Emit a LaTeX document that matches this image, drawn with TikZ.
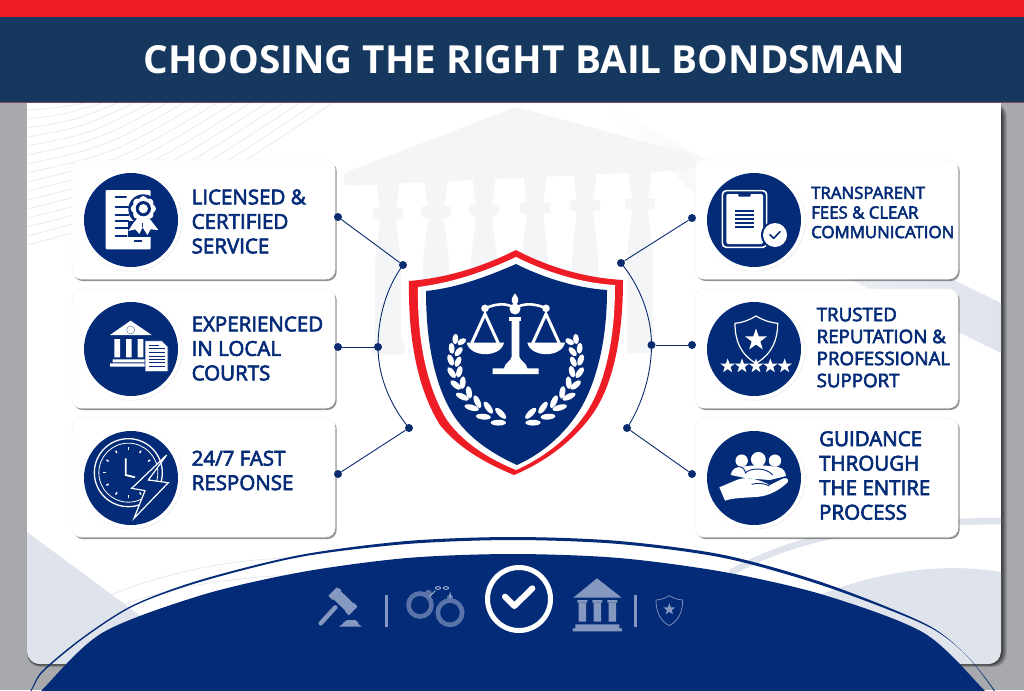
\documentclass[tikz,border=0pt]{standalone}
\usepackage{fontspec}
\setmainfont{Open Sans}
\newfontfamily\semifont[FakeBold=3.2]{Open Sans}
\usetikzlibrary{shadows}
\definecolor{navy}{HTML}{042B77}
\definecolor{dotnavy}{HTML}{0A2C6E}
\definecolor{headnavy}{HTML}{16385F}
\definecolor{brandred}{HTML}{EE1C25}
\definecolor{bggrey}{HTML}{A7A9AD}
\definecolor{paleA}{HTML}{F4F5F7}
\definecolor{paleB}{HTML}{DFE3EC}
\definecolor{paleline}{HTML}{E6E9EF}
\definecolor{dimicon}{HTML}{8598C0}
\definecolor{cuffring}{HTML}{5A74A9}
\definecolor{hairline}{HTML}{7A4A6B}
\tikzset{
 cardbox/.style={rectangle,rounded corners=9pt,fill=white,draw=paleA,line width=.6pt,inner sep=0pt,minimum width=263pt,minimum height=119pt,drop shadow={shadow xshift=1.6pt,shadow yshift=-2pt,opacity=.6,fill=black!70}},
 iconhalo/.style={circle,fill=white,inner sep=0pt,minimum size=102pt,drop shadow={shadow xshift=.5pt,shadow yshift=-.5pt,opacity=.10,fill=black}},
 iconbase/.style={circle,fill=navy,inner sep=0pt,minimum size=94pt},
 dotnode/.style={circle,fill=dotnavy,inner sep=0pt,minimum size=8pt},
 wire/.style={dotnavy,line width=.9pt},
 lab/.style={text=navy,inner sep=0pt,anchor=west,align=left},
 labbig/.style={lab,font=\semifont\fontsize{20.5}{24.5}\selectfont},
 labsmall/.style={lab,font=\semifont\fontsize{16.8}{19.6}\selectfont},
 labmid/.style={lab,font=\semifont\fontsize{18.7}{22}\selectfont},
 zA/.style={x=.33333pt,y=-.33333pt,shift={(60pt,-150pt)}},
 zB/.style={x=.33333pt,y=-.33333pt,shift={(680pt,-150pt)}},
 zC/.style={x=.33333pt,y=-.33333pt,shift={(380pt,-240pt)}},
 zD/.style={x=.33333pt,y=-.33333pt,shift={(290pt,-530pt)}},
}
\newcommand{\fivestar}[3]{\fill[white,shift={(#1,#2)}] (90:#3pt) -- (126:.4*#3pt) -- (162:#3pt) -- (198:.4*#3pt) -- (234:#3pt) -- (270:.4*#3pt) -- (306:#3pt) -- (342:.4*#3pt) -- (18:#3pt) -- (54:.4*#3pt) -- cycle;}
\begin{document}
\begin{tikzpicture}[x=1pt,y=-1pt]
\useasboundingbox (0,0) rectangle (1024,690);
\clip (0,0) rectangle (1024,690);
% backdrop
\fill[bggrey] (0,0) rectangle (1024,690);
\foreach \d/\o in {6/.10,5/.12,4/.14,3/.16,2/.18,1/.2}{
  \fill[black,opacity=\o,rounded corners=13pt] (27,103) rectangle (1001+\d,664+\d*.5);}
\begin{scope}
 \clip[rounded corners=13pt] (27,90) rectangle (1001,664);
 \fill[white] (27,90) rectangle (1001,664);
 % fan lines
 \foreach \i in {0,...,15}{
   \pgfmathsetmacro{\ys}{110+\i*9}
   \pgfmathsetmacro{\xe}{85+\i*16.5}
   \draw[paleline,line width=.7pt] (27,\ys) .. controls ({27+.5*(\xe-27)},{\ys-.28*(\ys-103)}) .. (\xe,103);}
 % diagonal band
 \shade[left color=white,right color=paleB] (600,100) -- (700,157) -- (1001,303) -- (1001,353) -- (760,235) -- (690,190) -- cycle;
 % temple watermark
 \fill[paleA,rounded corners=4pt] (344,173) -- (516,107) -- (694,155) -- (694,170) -- (344,186) -- cycle;
 \foreach \cx/\h in {388/213,436/211,484/209,535/207,585/205,640/203}{
  \fill[paleA] ({\cx-11},{\h-32}) .. controls ({\cx-11},{\h-15}) and ({\cx-8},{\h-8}) .. ({\cx-8},{\h-5}) -- ({\cx-15},{\h-4}) -- ({\cx-15},{\h+5}) -- ({\cx-8},{\h+7}) .. controls ({\cx-9},{\h+20}) and ({\cx-13},{\h+40}) .. ({\cx-13},{\h+60}) -- ({\cx-13},353) -- ({\cx+13},353) -- ({\cx+13},{\h+60}) .. controls ({\cx+13},{\h+40}) and ({\cx+9},{\h+20}) .. ({\cx+8},{\h+7}) -- ({\cx+15},{\h+5}) -- ({\cx+15},{\h-4}) -- ({\cx+8},{\h-5}) .. controls ({\cx+8},{\h-8}) and ({\cx+11},{\h-15}) .. ({\cx+11},{\h-32}) -- cycle;}
 \fill[paleA,rounded corners=3pt] (372,342) rectangle (405,355);
 % lower shapes
 \fill[paleB] (27,532) -- (142,617) -- (60,670) -- (27,670) -- cycle;
 \fill[paleB] (815,597) .. controls (860,578) and (930,560) .. (1001,572) -- (1001,670) -- (930,670) -- cycle;
 \draw[paleB,line width=6.5pt] (730,573) .. controls (790,540) and (860,522) .. (1001,521);
 \draw[paleB,line width=.6pt] (33,636) .. controls (100,590) and (200,558) .. (300,558);
 \draw[paleB,line width=.6pt] (35,650) .. controls (110,600) and (190,578) .. (300,575);
\end{scope}
% header
\fill[brandred] (0,0) rectangle (1024,17);
\fill[headnavy] (0,17) rectangle (1024,102);
\fill[hairline] (0,102) rectangle (1024,103);
\node[text=white,inner sep=0pt,font=\bfseries\fontsize{38.7}{44}\selectfont] (title) at (524,59.5) {CHOOSING THE RIGHT BAIL BONDSMAN};
% bottom dome
\fill[navy] plot[smooth] coordinates {(22,712)(42,690)(102,633)(202,595)(302,572)(407,558)(513,554)(619,558)(724,572)(824,595)(924,633)(984,690)(1004,712)} -- cycle;
\fill[navy] plot[smooth] coordinates {(26,700)(32,688)(43,670)(83,637)(133,605)(200,580)(300,555)(407,541)(513,537)(619,541)(724,555)(824,583)(924,623)(964,653)(992,688)(997,700)} -- plot[smooth] coordinates {(998,700)(993,688)(965,654)(925,625)(824,586)(724,558)(619,544)(513,540)(407,544)(300,557)(200,582)(134,606)(84,638)(44,671)(33,688)(27,700)} -- cycle;
% cards
\node[cardbox] (c1) at (203.5,219.5) {};
\node[cardbox] (c2) at (203.5,348.5) {};
\node[cardbox] (c3) at (203.5,477.5) {};
\node[cardbox] (c4) at (826.5,219.5) {};
\node[cardbox] (c5) at (826.5,348.5) {};
\node[cardbox] (c6) at (826.5,477.5) {};
\foreach \n/\x/\y in {a/131/220,b/131/349,c/131/478,d/754/220,e/754/349,f/754/478}{
 \node[iconhalo] (h\n) at (\x,\y) {};
 \node[iconbase] (i\n) at (\x,\y) {};}
% labels
\node[labbig] (t1) at (191.5,221.5) {LICENSED \&\\CERTIFIED\\SERVICE};
\node[labbig] (t2) at (191.5,348.5) {EXPERIENCED\\IN LOCAL\\COURTS};
\node[labbig] (t3) at (191.5,470.5) {24/7 FAST\\RESPONSE};
\node[labsmall] (t4) at (811,212.5) {TRANSPARENT\\FEES \& CLEAR\\COMMUNICATION};
\node[labmid] (t5) at (816.5,347.5) {TRUSTED\\REPUTATION \&\\PROFESSIONAL\\SUPPORT};
\node[labbig] (t6) at (819,475.5) {GUIDANCE\\THROUGH\\THE ENTIRE\\PROCESS};
% connectors
\node[dotnode] (d1) at (338,217) {};
\node[dotnode] (d2) at (403,265) {};
\node[dotnode] (d3) at (338,347) {};
\node[dotnode] (d4) at (378,347) {};
\node[dotnode] (d5) at (338,474) {};
\node[dotnode] (d6) at (409,428) {};
\node[dotnode] (d7) at (692,218) {};
\node[dotnode] (d8) at (621,263) {};
\node[dotnode] (d9) at (692,345) {};
\node[dotnode] (d10) at (651.5,345) {};
\node[dotnode] (d11) at (692,474) {};
\node[dotnode] (d12) at (627,428) {};
\draw[wire] (d1) -- (d2);
\draw[wire] (d3) -- (d4);
\draw[wire] (d5) -- (d6);
\draw[wire] (d7) -- (d8);
\draw[wire] (d9) -- (d10);
\draw[wire] (d11) -- (d12);
\draw[wire] (d2.center) .. controls (386,288) and (378,318) .. (d4.center);
\draw[wire] (d4.center) .. controls (378,376) and (390,405) .. (d6.center);
\draw[wire] (d8.center) .. controls (640,286) and (651.5,316) .. (d10.center);
\draw[wire] (d10.center) .. controls (651.5,374) and (642,405) .. (d12.center);
% shield
\fill[brandred] (516,250) .. controls (480,268) and (445,278) .. (409,281) .. controls (408,340) and (418,390) .. (440,425) .. controls (460,450) and (490,465) .. (514,475) .. controls (545,462) and (575,440) .. (594,412) .. controls (612,385) and (623,340) .. (623,280) .. controls (587,278) and (550,268) .. (516,250) -- cycle;
\fill[white] (516,257) .. controls (482,273) and (450,283) .. (418,287) .. controls (417,340) and (427,388) .. (447,420) .. controls (465,445) and (492,460) .. (516,470) .. controls (543,458) and (570,438) .. (588,410) .. controls (605,382) and (615,340) .. (615,285) .. controls (582,283) and (548,273) .. (516,257) -- cycle;
\fill[navy] (516,264) .. controls (484,278) and (455,288) .. (426,291) .. controls (426,340) and (434,385) .. (454,416) .. controls (470,440) and (495,455) .. (517,465) .. controls (541,454) and (564,436) .. (581,408) .. controls (597,380) and (607,340) .. (607,290) .. controls (578,288) and (546,279) .. (516,264) -- cycle;
\begin{scope}[zC]
 \draw[white,line width=2.6pt] (315,205) .. controls (350,190) and (380,188) .. (405,205) .. controls (430,188) and (465,190) .. (498,205);
 \fill[white] (315,205) circle (3.8pt) (498,205) circle (3.8pt) (405,207) circle (5.5pt);
 \fill[white] (405,160) .. controls (412,172) and (424,180) .. (405,197) .. controls (386,180) and (398,172) .. (405,160) -- cycle;
 \fill[white] (388,232) rectangle (424,243);
 \fill[white] (395,240) -- (418,240) -- (418,350) .. controls (422,365) and (440,368) .. (442,385) -- (476,385) -- (476,402) -- (338,402) -- (338,385) -- (372,385) .. controls (374,368) and (392,365) .. (395,350) -- cycle;
 \draw[white,line width=3pt] (275,310) -- (315,222) -- (355,310);
 \draw[white,line width=3pt] (458,310) -- (498,222) -- (538,310);
 \fill[white] (260,308) .. controls (270,354) and (362,354) .. (372,308) -- cycle;
 \fill[white] (442,308) .. controls (452,354) and (545,354) .. (555,308) -- cycle;
 \foreach \x/\y/\a/\l in {226/297/85/5.2,245/305/30/4.8,215/325/95/5.5,236/335/50/5.5,212/360/110/6,234/365/65/5.6,215/398/125/6.4,238/395/75/6,227/435/140/6.6,248/428/85/6.4,247/470/155/7,267/457/100/6.4,275/503/165/7.4,292/485/115/6.8,310/530/175/7.4,325/503/125/7,355/548/180/7.6,362/520/135/7.2}{
  \fill[white,shift={(\x,\y)},rotate=\a] (0,0) ellipse (\l pt and 2.9pt);
  \fill[white,shift={({814-\x},\y)},rotate=-\a] (0,0) ellipse (\l pt and 2.9pt);}
\end{scope}
% icon: certificate
\begin{scope}[zA]
 \fill[white,rounded corners=1pt] (137,120) rectangle (272,298);
 \draw[navy,line width=2pt,line cap=round] (167,142) -- (198,142) (167,172) -- (212,172) (167,194) -- (205,194) (167,214) -- (205,214) (167,235) -- (205,235) (167,258) -- (200,258) (224,273) -- (244,273);
 \fill[navy] (250,178) circle (15pt);
 \fill[navy] (205,212) rectangle (300,262);
 \fill[white] (218,222) -- (232,205) -- (268,205) -- (295,240) -- (272,238) -- (262,255) -- (248,232) -- (238,252) -- (226,238) -- (205,243) -- cycle;
 \draw[navy,line width=1pt] (248,232) -- (248,218);
 \foreach \a in {0,45,...,315}{\fill[white] ({250+26*cos(\a)},{176+26*sin(\a)}) circle (4pt);}
 \fill[white] (250,176) circle (11pt);
 \fill[navy] (250,176) circle (7.6pt);
 \fill[white] (250,176) circle (4.6pt);
\end{scope}
% icon: courthouse and paper
\begin{scope}[zA]
 \fill[white] (150,555) -- (212,512) -- (275,555) -- cycle;
 \draw[navy!70!white,line width=.4pt] (212,540) circle (4pt);
 \fill[white] (163,567) rectangle (180,622) (198,567) rectangle (215,622) (233,567) rectangle (250,622);
 \fill[white] (158,628) rectangle (255,637) (150,640) rectangle (258,650);
 \fill[white,draw=navy,line width=.8pt] (255,572) -- (306,572) -- (324,590) -- (324,665) -- (255,665) -- cycle;
 \foreach \y/\e in {585/296,596/315,607/315,618/315,628/315,638/315,648/315}{\draw[navy,line width=.8pt] (266,\y) -- (\e,\y);}
\end{scope}
% icon: clock and bolt
\begin{scope}[zA]
 \draw[white,line width=1.3pt] (205,968) circle (34pt);
 \draw[white,line width=.8pt] (205,968) circle (29.5pt);
 \foreach \a in {0,30,...,330}{\draw[white,line width=1.4pt] ({205+68*cos(\a)},{968+68*sin(\a)}) -- ({205+76*cos(\a)},{968+76*sin(\a)});}
 \draw[white,line width=1.8pt] (197,925) -- (197,975) -- (225,982);
 \fill[navy,draw=white,line width=1.2pt,line join=miter] (320,915) -- (265,990) -- (325,998) -- (222,1105) -- (255,1022) -- (215,1015) -- cycle;
\end{scope}
% icon: clipboard
\begin{scope}[zB]
 \draw[white,line width=1.6pt,rounded corners=4pt] (127,122) rectangle (260,292);
 \fill[white,rounded corners=2pt] (139,132) rectangle (249,282);
 \fill[navy,rounded corners=1pt] (175,128) rectangle (212,140);
 \foreach \y in {183,195,207,219,231}{\draw[navy,line width=1.6pt] (165,\y) -- (222,\y);}
 \fill[navy] (285,255) circle (14pt);
 \fill[white] (285,255) circle (12pt);
 \draw[navy,line width=1.6pt,line cap=round,line join=round] (270,254) -- (281,265) -- (300,245);
\end{scope}
% icon: shield with stars
\begin{scope}[zB]
 \draw[white,line width=1.2pt] (228,498) .. controls (208,510) and (188,518) .. (165,520) .. controls (165,570) and (180,612) .. (228,640) .. controls (276,612) and (293,570) .. (293,520) .. controls (270,518) and (248,510) .. (228,498) -- cycle;
 \fivestar{228}{570}{11.5}
 \foreach \x in {143,186,228,271,314}{\fivestar{\x}{648}{7.6}}
\end{scope}
% icon: caring hand
\begin{scope}[zB]
 \fill[white] (185,932) circle (6.2pt) (235,928) circle (7.4pt) (285,932) circle (6.2pt);
 \fill[white] (152,975) .. controls (155,955) and (170,950) .. (190,950) .. controls (210,945) and (260,945) .. (280,950) .. controls (300,950) and (315,955) .. (318,978) -- (270,990) -- (200,985) -- cycle;
 \draw[navy,line width=.9pt] (195,970) .. controls (210,952) and (260,952) .. (278,975) (178,950) .. controls (190,952) and (195,960) .. (197,968);
 \fill[white] (118,1012) -- (170,990) .. controls (190,982) and (215,982) .. (250,996) .. controls (262,1000) and (268,1005) .. (268,1006) -- (310,985) .. controls (322,982) and (328,990) .. (322,998) .. controls (300,1018) and (280,1030) .. (250,1038) .. controls (215,1045) and (170,1040) .. (135,1052) -- cycle;
 \draw[navy,line width=.9pt] (215,1003) .. controls (235,998) and (255,1000) .. (268,1008);
\end{scope}
% bottom row
\begin{scope}[zD]
 \fill[dimicon] (115,197) -- (140,172) -- (155,180) -- (128,210) -- cycle;
 \fill[dimicon] (130,207) -- (152,183) -- (190,220) -- (168,244) -- cycle;
 \fill[dimicon] (165,244) -- (192,218) -- (202,230) -- (176,256) -- cycle;
 \draw[dimicon,line width=4.4pt,line cap=round] (136,232) -- (92,280);
 \fill[dimicon] (172,270) -- (196,270) -- (205,278) -- (205,282) -- (216,290) -- (147,290) -- (158,282) -- (160,278) -- cycle;
 \draw[dimicon,line width=3pt] (290,195) -- (290,290) (1037,195) -- (1037,290);
 \draw[cuffring,line width=4.6pt] (390,225) circle (11.5pt);
 \draw[cuffring,line width=4.6pt] (480,248) circle (12.2pt);
 \fill[cuffring] (415,190) circle (3.6pt) (480,203) circle (3.2pt);
 \draw[dimicon!60!white,line width=.8pt] (444,174) ellipse (2.6pt and 1.4pt) (468,174) ellipse (2.6pt and 1.4pt);
 \draw[dimicon!60!white,line width=1pt] (418,200) -- (436,182) (480,188) -- (480,205);
 \draw[white,line width=5pt] (687,207) circle (31.5pt);
 \draw[white,line width=6pt,line cap=round,line join=round] (645,200) -- (673,228) -- (727,175);
 \fill[dimicon] (850,203) -- (921,145) -- (995,203) -- cycle;
 \fill[dimicon] (862,210) rectangle (892,218) (907,210) rectangle (937,218) (952,210) rectangle (982,218);
 \fill[dimicon] (866,218) rectangle (888,275) (911,218) rectangle (933,275) (956,218) rectangle (978,275);
 \fill[dimicon] (856,283) rectangle (988,295) (848,295) rectangle (996,304);
 \draw[dimicon,line width=.7pt] (1138,197) .. controls (1125,205) and (1112,209) .. (1098,210) .. controls (1098,245) and (1110,272) .. (1138,287) .. controls (1166,272) and (1178,245) .. (1178,210) .. controls (1164,209) and (1151,205) .. (1138,197) -- cycle;
 \fill[dimicon,shift={(1138,238)}] (90:6.2pt) -- (126:2.5pt) -- (162:6.2pt) -- (198:2.5pt) -- (234:6.2pt) -- (270:2.5pt) -- (306:6.2pt) -- (342:2.5pt) -- (18:6.2pt) -- (54:2.5pt) -- cycle;
\end{scope}
\end{tikzpicture}
\end{document}
